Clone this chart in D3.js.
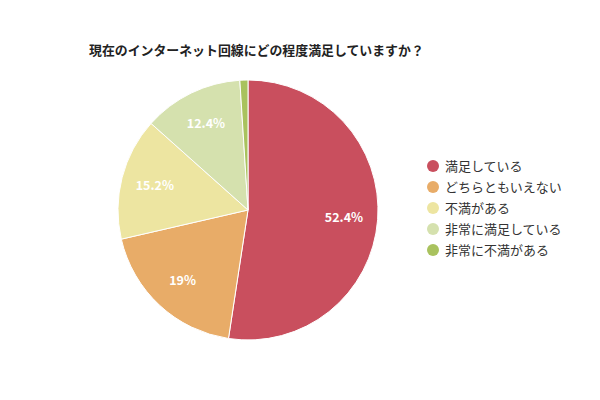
<!DOCTYPE html>
<html><head><meta charset="utf-8">
<script src="https://cdn.jsdelivr.net/npm/d3@7"></script>
<style>body{margin:0;background:#fff}</style>
</head><body>
<svg id="c" width="600" height="400"></svg>
<script>
const title = "現在のインターネット回線にどの程度満足していますか？";
const categories = ["満足している","どちらともいえない","不満がある","非常に満足している","非常に不満がある"];
const values = [52.4, 19, 15.2, 12.4, 1.0];
const colors = ["#c94f5e","#e8ac68","#ede5a1","#d5e1ae","#a9c25e"];
const pctLabels = ["52.4%","19%","15.2%","12.4%",""];

const svg = d3.select("#c");
const font = "'Noto Sans CJK JP', 'Noto Sans', sans-serif";
svg.append("rect").attr("width",600).attr("height",400).attr("fill","#fff");
svg.append("text").attr("x",89).attr("y",55).attr("font-family",font)
  .attr("font-size",12.9).attr("font-weight","bold").attr("fill","#222").text(title);

const cx=248, cy=210, R=130;
const data = categories.map((c,i)=>({c, v:values[i], col:colors[i], lab:pctLabels[i]}));
const pie = d3.pie().value(d=>d.v).sort(null);
const arc = d3.arc().innerRadius(0).outerRadius(R);
const labelArc = d3.arc().innerRadius(R*0.74).outerRadius(R*0.74);
const g = svg.append("g").attr("transform",`translate(${cx},${cy})`);
const arcs = pie(data);
g.selectAll("path").data(arcs).join("path").attr("d",arc)
  .attr("fill",d=>d.data.col).attr("stroke","#fff").attr("stroke-width",1);
g.selectAll("text").data(arcs).join("text")
  .attr("transform",d=>`translate(${labelArc.centroid(d)})`)
  .attr("text-anchor","middle").attr("dy","0.35em")
  .attr("font-family",font).attr("font-size",12.5).attr("font-weight","bold")
  .attr("fill","#fff").text(d=>d.data.lab);

const y = d3.scalePoint().domain(categories).range([166,250]);
const lg = svg.append("g");
const items = lg.selectAll("g").data(data).join("g").attr("transform",d=>`translate(433,${y(d.c)})`);
items.append("circle").attr("r",6).attr("fill",d=>d.col);
items.append("text").attr("x",12).attr("dy","0.35em").attr("font-family",font)
  .attr("font-size",13).attr("fill","#333").text(d=>d.c);
</script>
</body></html>
